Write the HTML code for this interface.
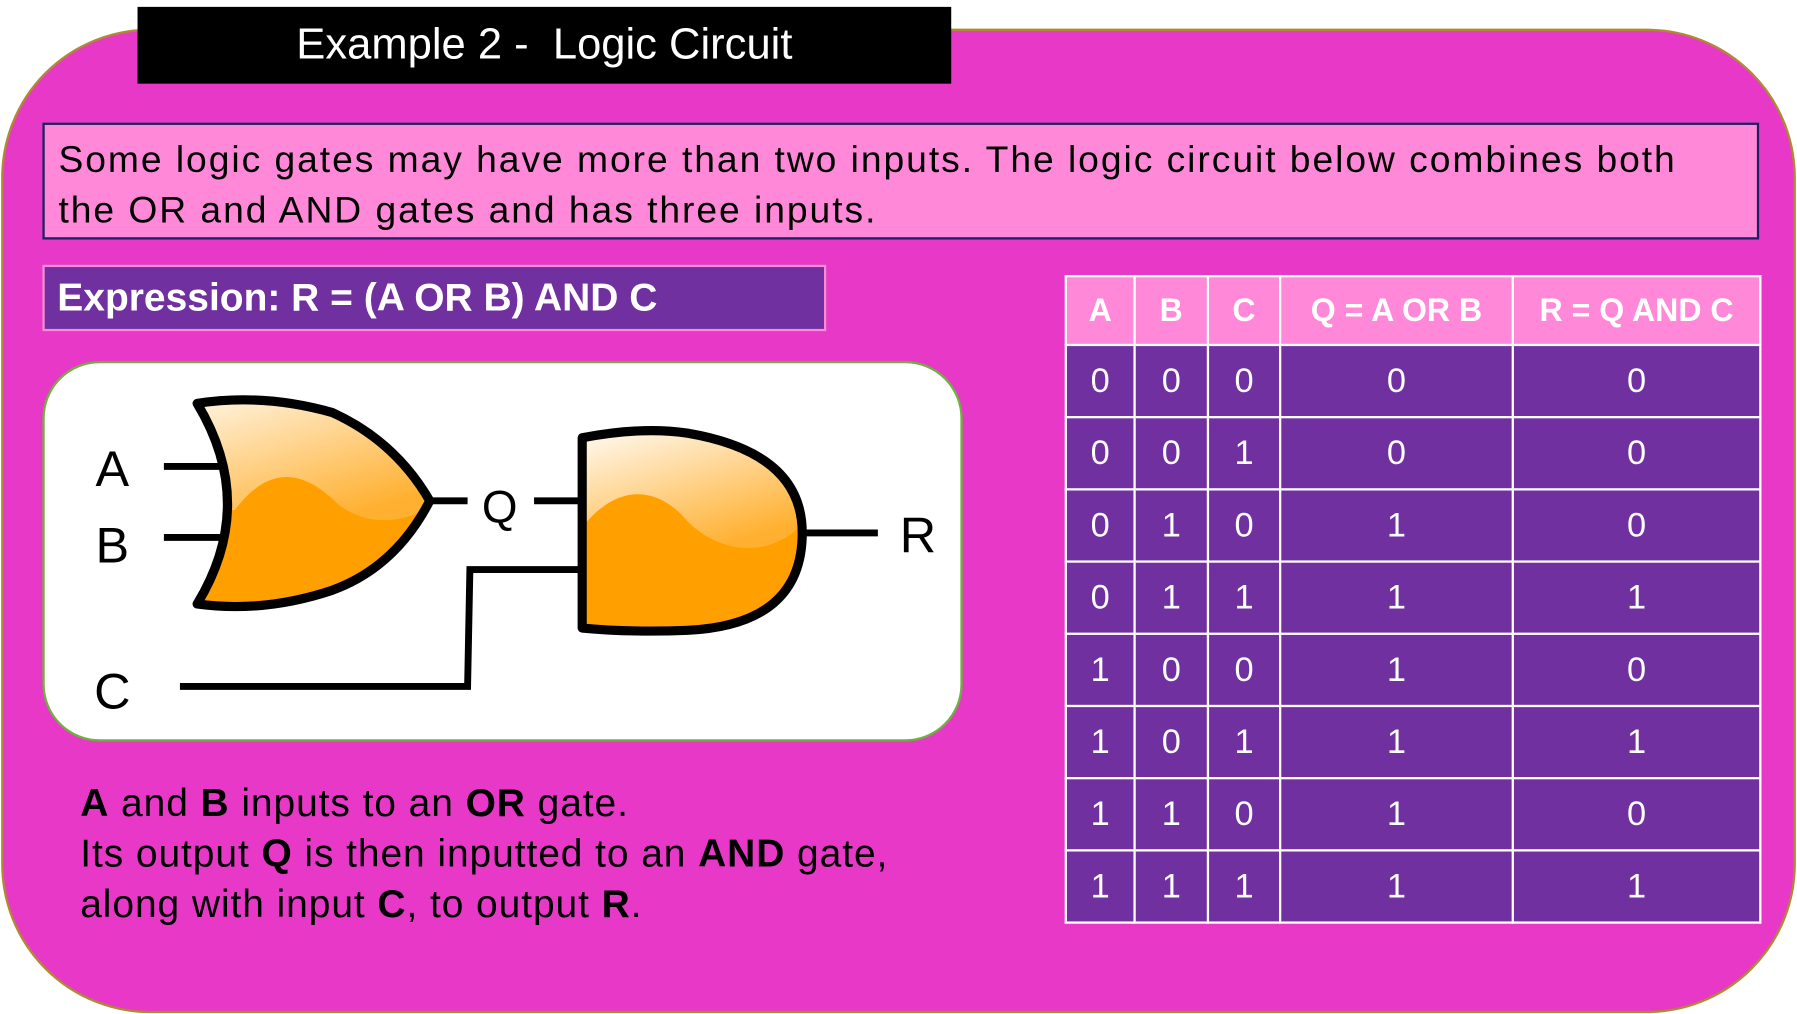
<!DOCTYPE html>
<html><head><meta charset="utf-8"><style>
html,body{margin:0;padding:0;background:#fff;width:1797px;height:1014px;overflow:hidden}
#s{position:absolute;left:0;top:0;width:1568px;height:885px;transform:scale(1.14605);transform-origin:0 0;font-family:"Liberation Sans",sans-serif}
.a{position:absolute;box-sizing:border-box}
table{border-collapse:collapse;position:absolute;left:929px;top:240px;width:606px;table-layout:fixed}
td,th{border:2px solid #fff;color:#fff;text-align:center;font-size:30px;padding:0;height:61px}
th{background:#ff88d8;font-size:28px;height:58px}
td{background:#7030a0}
</style></head><body>
<div id="s">
<div class="a" style="left:1px;top:25px;width:1566px;height:859px;background:#e838c8;border:2px solid #b08a30;border-radius:130px"></div>
<div class="a" style="left:120px;top:6px;width:710px;height:67px;background:#000;color:#fff;font-size:38px;line-height:67px;text-align:center">Example 2 -&nbsp; Logic Circuit</div>
<div class="a" style="left:37px;top:107px;width:1498px;height:102px;background:#ff88d8;border:2px solid #1a2060;font-size:32.5px;line-height:44px;padding:8px 12px;color:#000;white-space:nowrap;letter-spacing:1.7px">Some logic gates may have more than two inputs. The logic circuit below combines both<br>the OR and AND gates and has three inputs.</div>
<div class="a" style="left:37px;top:231px;width:684px;height:58px;background:#7030a0;border:2px solid #ff88d8;color:#fff;font-weight:bold;font-size:34px;line-height:54px;padding-left:11px">Expression: R = (A OR B) AND C</div>
<div class="a" style="left:37px;top:315px;width:803px;height:332px;background:#fff;border:2px solid #70b040;border-radius:50px"></div>
<svg class="a" style="left:0;top:0" width="1568" height="885">
<defs>
<linearGradient id="g" x1="0" y1="0" x2="0.6" y2="1"><stop offset="0" stop-color="#fff"/><stop offset="1" stop-color="#ffb030"/></linearGradient>
<clipPath id="c1"><path d="M172,352 Q230,343 290,360 Q345,385 375,437 Q345,495 290,515 Q230,535 172,527 Q225,440 172,352 Z"/></clipPath>
<clipPath id="c2"><path d="M508,382 Q560,372 600,378 Q700,395 700,465 Q700,545 600,550 Q550,552 508,548 Z"/></clipPath>
</defs>
<g stroke="#000" stroke-width="6" fill="none">
<line x1="143" y1="407" x2="205" y2="407"/>
<line x1="143" y1="469" x2="205" y2="469"/>
<line x1="375" y1="437" x2="408" y2="437"/>
<line x1="466" y1="437" x2="508" y2="437"/>
<line x1="700" y1="465" x2="766" y2="465"/>
<polyline points="157,599 408,599 410,497 505,497"/>
</g>
<g>
<path d="M172,352 Q230,343 290,360 Q345,385 375,437 Q345,495 290,515 Q230,535 172,527 Q225,440 172,352 Z" fill="#ffa000"/>
<path clip-path="url(#c1)" d="M150,330 L390,330 L390,430 C360,460 320,460 295,440 C265,410 235,405 205,445 L150,445 Z" fill="url(#g)"/>
<path d="M172,352 Q230,343 290,360 Q345,385 375,437 Q345,495 290,515 Q230,535 172,527 Q225,440 172,352 Z" fill="none" stroke="#000" stroke-width="8" stroke-linejoin="round"/>
</g>
<g>
<path d="M508,382 Q560,372 600,378 Q700,395 700,465 Q700,545 600,550 Q550,552 508,548 Z" fill="#ffa000"/>
<path clip-path="url(#c2)" d="M500,370 L710,370 L710,445 C680,490 630,485 600,455 C575,425 540,420 508,460 L500,460 Z" fill="url(#g)"/>
<path d="M508,382 Q560,372 600,378 Q700,395 700,465 Q700,545 600,550 Q550,552 508,548 Z" fill="none" stroke="#000" stroke-width="8" stroke-linejoin="round"/>
</g>
<g font-family="Liberation Sans, sans-serif" font-size="44" fill="#000" text-anchor="middle">
<text x="98" y="424">A</text>
<text x="98" y="491">B</text>
<text x="98" y="618">C</text>
<text x="436" y="456" font-size="40">Q</text>
<text x="801" y="482">R</text>
</g>
</svg>
<div class="a" style="left:70px;top:679px;width:850px;font-size:34px;line-height:44px;color:#000;letter-spacing:0.8px;white-space:nowrap"><b>A</b> and <b>B</b> inputs to an <b>OR</b> gate.<br>Its output <b>Q</b> is then inputted to an <b>AND</b> gate,<br>along with input <b>C</b>, to output <b>R</b>.</div>
<table id="tt">
<colgroup><col style="width:60px"><col style="width:64px"><col style="width:63px"><col style="width:203px"><col style="width:216px"></colgroup>
<tr id="hdr"></tr>
</table>
</div>
<script>
const headers=["A","B","C","Q = A OR B","R = Q AND C"];
const colA=[0,0,0,0,1,1,1,1];
const colB=[0,0,1,1,0,0,1,1];
const colC=[0,1,0,1,0,1,0,1];
const colQ=[0,0,1,1,1,1,1,1];
const colR=[0,0,0,1,0,1,0,1];
const hdr=document.getElementById('hdr');
headers.forEach(h=>{const th=document.createElement('th');th.textContent=h;


hdr.appendChild(th);});
const tt=document.getElementById('tt');
for(let i=0;i<colA.length;i++){const tr=document.createElement('tr');


[colA[i],colB[i],colC[i],colQ[i],colR[i]].forEach(v=>{const td=document.createElement('td');td.textContent=v;


tr.appendChild(td);});
tt.appendChild(tr);}
</script>
</body></html>
